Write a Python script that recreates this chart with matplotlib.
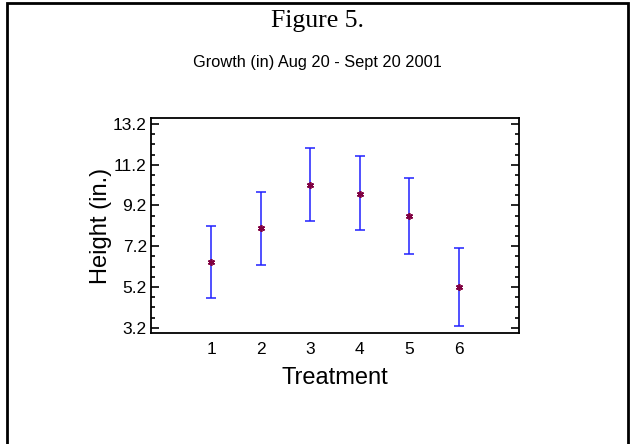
import matplotlib.pyplot as plt
from matplotlib.patches import Rectangle

# treatment means and interval ends
treatment = [1, 2, 3, 4, 5, 6]
height = [6.44, 8.08, 10.23, 9.78, 8.68, 5.22]
upper = [8.21, 9.86, 12.03, 11.61, 10.53, 7.13]
lower = [4.65, 6.28, 8.42, 7.99, 6.82, 3.27]
yticks = [3.2, 5.2, 7.2, 9.2, 11.2, 13.2]

sans = 'Liberation Sans'
plt.rcParams['font.family'] = sans

fig = plt.figure(figsize=(6.35, 4.44), dpi=100)
# page frame, bottom edge falls outside the picture
fig.patches.append(Rectangle((7 / 635, -0.05), 621 / 635, 1.05 - 3 / 444,
                             transform=fig.transFigure, fill=False,
                             edgecolor='black', linewidth=2))

fig.text(0.5, 1 - 27 / 444, 'Figure 5.', ha='center', va='baseline',
         family='Liberation Serif', fontsize=18.5)
fig.text(0.5, 1 - 62 / 444, 'Growth (in) Aug 20 - Sept 20 2001', ha='center',
         va='center', fontsize=11.8)

ax = fig.add_axes([151 / 635, 1 - 333.3 / 444, 368 / 635, 215 / 444])

err = [[h - l for h, l in zip(height, lower)],
       [u - h for h, u in zip(height, upper)]]
ax.errorbar(treatment, height, yerr=err, fmt='none', ecolor='#2020ff',
            elinewidth=1.1, capsize=3.6, capthick=1.1)
ax.plot(treatment, height, linestyle='none', marker=(6, 2, 0),
        markersize=5, color='#800040', markeredgewidth=1.2)

ax.set_xlim(-0.22, 7.22)
ax.set_ylim(2.925, 13.48)
ax.set_xticks(treatment)
ax.set_yticks(yticks)
ax.set_yticklabels([str(v) for v in yticks])
ax.set_yticks([3.2 + 0.5 * i for i in range(21)], minor=True)

ax.tick_params(axis='x', length=0, pad=6, labelsize=12.5)
ax.tick_params(axis='y', which='both', direction='in', right=True,
               labelsize=12.5, width=1.2, pad=3)
ax.tick_params(axis='y', which='major', length=6)
ax.tick_params(axis='y', which='minor', length=3)
for s in ax.spines.values():
    s.set_linewidth(1.3)

ax.set_xlabel('Treatment', fontsize=17, labelpad=7.5)
ax.set_ylabel('Height (in.)', fontsize=17, labelpad=1)

fig.savefig('out.png', dpi=100)
